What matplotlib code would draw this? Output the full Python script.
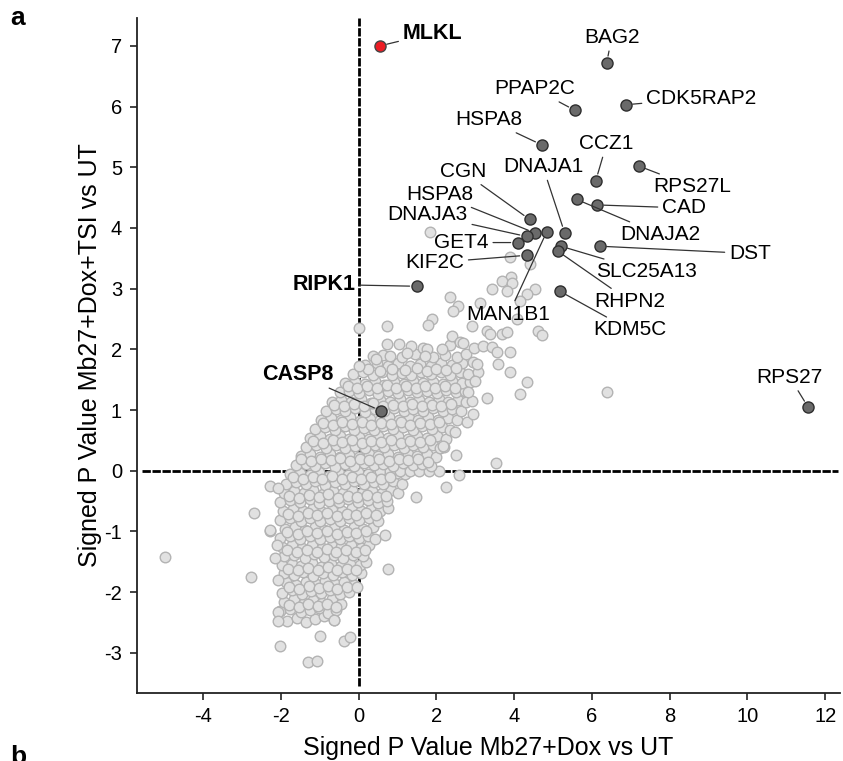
import matplotlib
matplotlib.use("Agg")
import matplotlib.pyplot as plt

plt.rcParams['font.family'] = ['Liberation Sans', 'DejaVu Sans']

# ---------------- data ----------------
# background proteins (signed p value x, y)
cloud_pts = [
    (-1.84,-2.47),(-1.58,-2.43),(-1.36,-2.49),(-1.12,-2.44),(-0.88,-2.40),(-0.62,-2.46),
    (-2.01,-2.31),(-1.77,-2.27),(-1.49,-2.33),(-1.26,-2.29),(-1.03,-2.26),(-0.79,-2.34),(-0.57,-2.30),
    (-1.92,-2.16),(-1.66,-2.12),(-1.41,-2.18),(-1.17,-2.13),(-0.93,-2.17),(-0.68,-2.12),(-0.46,-2.19),
    (-1.97,-2.02),(-1.72,-1.97),(-1.46,-2.03),(-1.22,-1.98),(-0.97,-2.01),(-0.73,-1.96),(-0.48,-2.03),(-0.24,-1.99),
    (-1.86,-1.84),(-1.61,-1.88),(-1.34,-1.83),(-1.09,-1.87),(-0.86,-1.82),(-0.61,-1.86),(-0.37,-1.84),(-0.12,-1.88),
    (-1.93,-1.69),(-1.67,-1.72),(-1.42,-1.67),(-1.16,-1.73),(-0.91,-1.68),(-0.66,-1.71),(-0.42,-1.66),(-0.17,-1.72),(0.06,-1.69),
    (-1.98,-1.56),(-1.72,-1.53),(-1.47,-1.57),(-1.21,-1.52),(-0.96,-1.58),(-0.71,-1.54),(-0.46,-1.57),(-0.21,-1.53),(0.04,-1.56),(0.18,-1.51),
    (-1.91,-1.41),(-1.66,-1.38),(-1.39,-1.43),(-1.14,-1.37),(-0.89,-1.42),(-0.64,-1.39),(-0.39,-1.43),(-0.14,-1.38),(0.11,-1.41),
    (-1.96,-1.26),(-1.71,-1.23),(-1.45,-1.27),(-1.19,-1.22),(-0.94,-1.28),(-0.69,-1.24),(-0.44,-1.26),(-0.19,-1.22),(0.06,-1.27),(0.26,-1.23),
    (-2.02,-1.11),(-1.76,-1.08),(-1.51,-1.12),(-1.24,-1.07),(-0.99,-1.13),(-0.74,-1.09),(-0.49,-1.12),(-0.24,-1.07),(0.01,-1.11),(0.24,-1.08),(0.41,-1.12),
    (-1.89,-0.96),(-1.64,-0.93),(-1.38,-0.97),(-1.13,-0.92),(-0.88,-0.98),(-0.63,-0.94),(-0.38,-0.97),(-0.13,-0.93),(0.12,-0.96),(0.36,-0.92),
    (-2.01,-0.81),(-1.76,-0.78),(-1.49,-0.83),(-1.24,-0.77),(-0.99,-0.82),(-0.74,-0.79),(-0.49,-0.83),(-0.24,-0.78),(0.01,-0.81),(0.26,-0.77),(0.51,-0.82),
    (-1.94,-0.66),(-1.69,-0.63),(-1.43,-0.67),(-1.18,-0.62),(-0.93,-0.68),(-0.68,-0.64),(-0.43,-0.67),(-0.18,-0.62),(0.07,-0.66),(0.32,-0.63),(0.56,-0.67),(0.76,-0.62),
    (-2.02,-0.51),(-1.77,-0.48),(-1.51,-0.52),(-1.26,-0.47),(-1.01,-0.53),(-0.76,-0.49),(-0.51,-0.52),(-0.26,-0.47),(-0.01,-0.51),(0.24,-0.48),(0.49,-0.53),(0.73,-0.49),
    (-1.91,-0.36),(-1.66,-0.33),(-1.41,-0.37),(-1.16,-0.32),(-0.91,-0.38),(-0.66,-0.34),(-0.41,-0.37),(-0.16,-0.32),(0.09,-0.36),(0.34,-0.33),(0.59,-0.37),(0.84,-0.32),(1.01,-0.36),
    (-1.86,-0.21),(-1.61,-0.18),(-1.36,-0.22),(-1.11,-0.17),(-0.86,-0.23),(-0.61,-0.19),(-0.36,-0.22),(-0.11,-0.17),(0.14,-0.21),(0.39,-0.18),(0.64,-0.22),(0.89,-0.17),(1.12,-0.21),
    (-1.76,-0.06),(-1.51,-0.03),(-1.26,-0.07),(-1.01,-0.02),(-0.76,-0.08),(-0.51,-0.04),(-0.26,-0.07),(-0.01,-0.02),(0.24,-0.06),(0.49,-0.03),(0.74,-0.07),(0.99,-0.04),(1.19,-0.06),
    (0.55,0.0),(0.81,0.0),(1.06,0.0),(1.31,0.0),(1.56,0.0),(1.81,0.0),(2.06,0.0),
    (-1.61,0.09),(-1.36,0.12),(-1.11,0.08),(-0.86,0.13),(-0.61,0.07),(-0.36,0.11),(-0.11,0.08),(0.14,0.13),(0.39,0.09),(0.64,0.12),(0.89,0.08),(1.14,0.13),(1.39,0.09),(1.64,0.12),(1.87,0.08),
    (-1.49,0.24),(-1.24,0.27),(-0.99,0.23),(-0.74,0.28),(-0.49,0.22),(-0.24,0.26),(0.01,0.23),(0.26,0.28),(0.51,0.24),(0.76,0.27),(1.01,0.23),(1.26,0.28),(1.51,0.24),(1.76,0.27),(1.99,0.23),
    (-1.34,0.39),(-1.09,0.42),(-0.84,0.38),(-0.59,0.43),(-0.34,0.37),(-0.09,0.41),(0.16,0.38),(0.41,0.43),(0.66,0.39),(0.91,0.42),(1.16,0.38),(1.41,0.43),(1.66,0.39),(1.91,0.42),(2.09,0.37),
    (-1.24,0.54),(-0.99,0.57),(-0.74,0.53),(-0.49,0.58),(-0.24,0.52),(0.01,0.56),(0.26,0.53),(0.51,0.58),(0.76,0.54),(1.01,0.57),(1.26,0.53),(1.51,0.58),(1.76,0.54),(2.01,0.57),(2.24,0.53),
    (-1.11,0.69),(-0.86,0.72),(-0.61,0.68),(-0.36,0.73),(-0.11,0.67),(0.14,0.71),(0.39,0.68),(0.64,0.73),(0.89,0.69),(1.14,0.72),(1.39,0.68),(1.64,0.73),(1.89,0.69),(2.14,0.72),(2.34,0.68),
    (-0.96,0.84),(-0.71,0.87),(-0.46,0.83),(-0.21,0.88),(0.04,0.82),(0.29,0.86),(0.54,0.83),(0.79,0.88),(1.04,0.84),(1.29,0.87),(1.54,0.83),(1.79,0.88),(2.04,0.84),(2.29,0.87),(2.54,0.83),
    (-0.84,0.99),(-0.59,1.02),(-0.34,0.98),(-0.09,1.03),(0.16,0.97),(0.41,1.01),(0.66,0.98),(0.91,1.03),(1.16,0.99),(1.41,1.02),(1.66,0.98),(1.91,1.03),(2.16,0.99),(2.41,1.02),(2.64,0.98),
    (-0.69,1.14),(-0.44,1.17),(-0.19,1.13),(0.06,1.18),(0.31,1.12),(0.56,1.16),(0.81,1.13),(1.06,1.18),(1.31,1.14),(1.56,1.17),(1.81,1.13),(2.06,1.18),(2.31,1.14),(2.56,1.17),(2.76,1.13),
    (-0.49,1.29),(-0.24,1.32),(0.01,1.28),(0.26,1.33),(0.51,1.27),(0.76,1.31),(1.01,1.28),(1.26,1.33),(1.51,1.29),(1.76,1.32),(2.01,1.28),(2.26,1.33),(2.51,1.29),(2.74,1.32),
    (-0.34,1.44),(-0.09,1.47),(0.16,1.43),(0.41,1.48),(0.66,1.42),(0.91,1.46),(1.16,1.43),(1.41,1.48),(1.66,1.44),(1.91,1.47),(2.16,1.43),(2.41,1.48),(2.66,1.44),(2.86,1.47),
    (-0.14,1.59),(0.11,1.62),(0.36,1.58),(0.61,1.63),(0.86,1.57),(1.11,1.61),(1.36,1.58),(1.61,1.63),(1.86,1.59),(2.11,1.62),(2.36,1.58),(2.61,1.63),(2.81,1.59),(3.06,1.62),
    (0.16,1.74),(0.47,1.77),(0.76,1.73),(1.02,1.78),(1.31,1.72),(1.57,1.76),(1.86,1.73),(2.12,1.78),(2.41,1.74),(2.66,1.77),
    (0.62,1.91),(1.12,1.88),(1.46,1.92),(1.91,1.87),(2.21,1.91),(2.52,1.88),(2.77,1.92),
    (1.36,2.06),(1.66,2.03),(2.36,2.07),(2.96,2.02),(3.21,2.06),
    # in-between proteins of the dense core
    (-1.80,-2.21),(-1.54,-2.24),(-1.29,-2.20),(-1.05,-2.23),(-0.81,-2.19),(-0.58,-2.24),
    (-1.78,-1.91),(-1.53,-1.94),(-1.28,-1.90),(-1.03,-1.93),(-0.79,-1.89),(-0.55,-1.94),(-0.30,-1.91),
    (-1.81,-1.61),(-1.55,-1.64),(-1.30,-1.60),(-1.04,-1.63),(-0.79,-1.59),(-0.55,-1.64),(-0.30,-1.61),(-0.06,-1.63),
    (-1.83,-1.31),(-1.58,-1.34),(-1.32,-1.30),(-1.07,-1.33),(-0.82,-1.29),(-0.57,-1.34),(-0.32,-1.31),(-0.07,-1.33),(0.17,-1.30),
    (-1.84,-1.01),(-1.57,-1.04),(-1.32,-1.00),(-1.06,-1.03),(-0.81,-0.99),(-0.56,-1.04),(-0.31,-1.01),(-0.06,-1.03),(0.19,-1.00),
    (-1.82,-0.71),(-1.56,-0.74),(-1.31,-0.70),(-1.06,-0.73),(-0.81,-0.69),(-0.56,-0.74),(-0.31,-0.71),(-0.06,-0.73),(0.19,-0.70),(0.44,-0.73),
    (-1.78,-0.41),(-1.53,-0.44),(-1.28,-0.40),(-1.03,-0.43),(-0.78,-0.39),(-0.53,-0.44),(-0.28,-0.41),(-0.03,-0.43),(0.22,-0.40),(0.47,-0.43),(0.71,-0.41),
    (-1.68,-0.11),(-1.43,-0.14),(-1.18,-0.10),(-0.93,-0.13),(-0.68,-0.09),(-0.43,-0.14),(-0.18,-0.11),(0.07,-0.13),(0.32,-0.10),(0.57,-0.13),(0.82,-0.11),
    (-1.47,0.19),(-1.22,0.16),(-0.97,0.20),(-0.72,0.17),(-0.47,0.21),(-0.22,0.16),(0.03,0.19),(0.28,0.17),(0.53,0.20),(0.78,0.16),(1.03,0.19),(1.28,0.17),(1.53,0.20),
    (-1.17,0.49),(-0.92,0.46),(-0.67,0.50),(-0.42,0.47),(-0.17,0.51),(0.08,0.46),(0.33,0.49),(0.58,0.47),(0.83,0.50),(1.08,0.46),(1.33,0.49),(1.58,0.47),(1.83,0.50),
    (-0.92,0.79),(-0.67,0.76),(-0.42,0.80),(-0.17,0.77),(0.08,0.81),(0.33,0.76),(0.58,0.79),(0.83,0.77),(1.08,0.80),(1.33,0.76),(1.58,0.79),(1.83,0.77),(2.08,0.80),
    (-0.62,1.09),(-0.37,1.06),(-0.12,1.10),(0.13,1.07),(0.38,1.11),(0.63,1.06),(0.88,1.09),(1.13,1.07),(1.38,1.10),(1.63,1.06),(1.88,1.09),(2.13,1.07),(2.38,1.10),
    (-0.28,1.39),(-0.03,1.36),(0.22,1.40),(0.47,1.37),(0.72,1.41),(0.97,1.36),(1.22,1.39),(1.47,1.37),(1.72,1.40),(1.97,1.36),(2.22,1.39),(2.47,1.37),
    (0.25,1.67),(0.55,1.65),(0.85,1.68),(1.20,1.66),(1.50,1.69),(1.75,1.65),(2.00,1.68),(2.25,1.66),(2.50,1.69),
    # sparse / outlying background proteins
    (1.83,3.94),(3.89,3.53),(4.40,3.40),(3.91,3.20),(3.68,3.12),(3.94,3.10),(3.42,2.99),(3.81,2.96),
    (4.53,2.99),(4.32,2.91),(2.34,2.86),(3.11,2.77),(4.14,2.79),(2.55,2.71),(2.42,2.63),(1.90,2.50),
    (1.78,2.41),(0.72,2.38),(0.00,2.35),(2.91,2.38),(3.29,2.30),(3.37,2.25),(3.68,2.25),(3.81,2.28),
    (4.07,2.50),(4.61,2.30),(4.71,2.23),(2.39,2.22),(2.60,2.12),(2.68,2.10),(2.14,2.00),(3.42,2.04),
    (3.55,1.95),(3.89,1.95),(1.03,2.09),(0.72,2.09),(1.24,1.94),(0.80,1.89),(0.36,1.89),(0.46,1.84),
    (1.75,2.00),(1.72,1.89),(2.93,1.79),(3.04,1.76),(3.58,1.76),(3.89,1.63),(4.32,1.46),(4.14,1.26),
    (0.00,1.72),(3.29,1.20),(6.38,1.30),(3.53,0.13),(2.57,-0.07),(2.26,-0.26),(2.50,0.26),(2.47,0.64),
    (2.19,0.39),(2.78,0.80),(2.94,0.94),(2.91,1.15),(2.81,1.30),(2.99,1.48),(1.47,-0.43),(0.75,-1.61),
    (0.69,-1.05),(-0.05,-1.92),(-4.97,-1.42),(-2.68,-0.70),(-2.76,-1.75),(-2.03,-2.89),(-1.30,-3.15),
    (-1.08,-3.14),(-0.38,-2.81),(-0.23,-2.73),(-1.00,-2.72),(-2.29,-0.25),(-2.08,-0.28),(-2.29,-1.00),
    (-2.27,-0.98),(-2.11,-1.23),(-2.14,-1.43),(-2.08,-1.80),(-2.08,-2.33),(-2.08,-2.48),(-0.62,-2.46),
    (2.16,0.41),(1.78,0.15),
]
cloud_x = [p[0] for p in cloud_pts]
cloud_y = [p[1] for p in cloud_pts]

# highlighted proteins
hit_names = ["BAG2", "PPAP2C", "CDK5RAP2", "HSPA8", "CCZ1", "RPS27L", "CGN", "DNAJA1",
             "HSPA8", "DNAJA3", "GET4", "KIF2C", "CAD", "DNAJA2", "DST", "SLC25A13",
             "RHPN2", "MAN1B1", "KDM5C", "RIPK1", "CASP8", "RPS27"]
hit_x = [6.38, 5.56, 6.87, 4.71, 6.10, 7.21, 4.40, 5.30,
         4.53, 4.32, 4.09, 4.32, 6.13, 5.61, 6.20, 5.20,
         5.12, 4.84, 5.17, 1.49, 0.57, 11.56]
hit_y = [6.72, 5.94, 6.03, 5.37, 4.78, 5.02, 4.14, 3.92,
         3.92, 3.86, 3.76, 3.55, 4.38, 4.47, 3.70, 3.70,
         3.62, 3.94, 2.96, 3.04, 0.99, 1.05]
bold_names = {"RIPK1", "CASP8"}

mlkl_name = "MLKL"
mlkl_x = [0.55]
mlkl_y = [7.00]

x_ticks = [-4, -2, 0, 2, 4, 6, 8, 10, 12]
y_ticks = [-3, -2, -1, 0, 1, 2, 3, 4, 5, 6, 7]
x_label = "Signed P Value Mb27+Dox vs UT"
y_label = "Signed P Value Mb27+Dox+TSI vs UT"

# ---------------- layout (label placement, data coords) ----------------
label_pos = [(6.51, 7.14, 'center'), (4.53, 6.29, 'center'), (7.39, 6.14, 'left'),
             (3.35, 5.78, 'center'), (6.38, 5.39, 'center'), (7.59, 4.68, 'left'),
             (2.68, 4.93, 'center'), (4.74, 5.01, 'center'), (2.08, 4.55, 'center'),
             (1.78, 4.22, 'center'), (2.65, 3.76, 'center'), (1.96, 3.43, 'center'),
             (7.80, 4.33, 'left'), (7.75, 3.89, 'center'), (10.06, 3.58, 'center'),
             (7.41, 3.28, 'center'), (6.98, 2.79, 'center'), (3.86, 2.58, 'center'),
             (6.98, 2.32, 'center'), (-0.08, 3.07, 'right'), (-1.57, 1.59, 'center'),
             (11.09, 1.54, 'center')]
mlkl_pos = (1.13, 7.21)

# ---------------- figure ----------------
fig = plt.figure(figsize=(8.43, 7.61), dpi=100)
ax = fig.add_axes([0.1629, 0.0894, 0.8335, 0.8870])
ax.set_xlim(-5.69, 12.38)
ax.set_ylim(-3.66, 7.46)

dash = (0, (3.0, 0.6))
ax.plot([-5.57, 12.33], [0, 0], color='black', lw=2.0, linestyle=dash, zorder=1)
ax.plot([0, 0], [-3.55, 7.46], color='black', lw=2.0, linestyle=dash, zorder=1, clip_on=False)

ax.scatter(cloud_x, cloud_y, s=58, facecolor='#e1e1e1', edgecolor='#b3b3b3',
           linewidth=1.0, zorder=2)
ax.scatter(hit_x, hit_y, s=64, facecolor='#6a6a6a', edgecolor='#2e2e2e',
           linewidth=1.0, zorder=4)
ax.scatter(mlkl_x, mlkl_y, s=64, facecolor='#ec1c24', edgecolor='#444444',
           linewidth=1.0, zorder=4)

arrow = dict(arrowstyle='-', color='#333333', lw=0.9, shrinkA=1, shrinkB=5)
for name, px, py, (tx, ty, ha) in zip(hit_names, hit_x, hit_y, label_pos):
    ax.annotate(name, xy=(px, py), xytext=(tx, ty), ha=ha, va='center',
                fontsize=15 if name not in bold_names else 15.5,
                fontweight='bold' if name in bold_names else 'normal',
                arrowprops=arrow, zorder=5)
ax.annotate(mlkl_name, xy=(mlkl_x[0], mlkl_y[0]), xytext=mlkl_pos, ha='left', va='center',
            fontsize=15.5, fontweight='bold', arrowprops=arrow, zorder=5)

for side in ['top', 'right']:
    ax.spines[side].set_visible(False)
for side in ['left', 'bottom']:
    ax.spines[side].set_linewidth(1.3)
    ax.spines[side].set_color('#222222')

ax.set_xticks(x_ticks)
ax.set_yticks(y_ticks)
ax.set_xticklabels([str(t) for t in x_ticks])
ax.set_yticklabels([str(t) for t in y_ticks])
ax.tick_params(axis='both', direction='out', length=5, width=1.2, color='#222222',
               labelsize=14.5)
ax.tick_params(axis='y', pad=6)
ax.tick_params(axis='x', pad=5)
ax.set_xlabel(x_label, fontsize=18, labelpad=7)
ax.set_ylabel(y_label, fontsize=18, labelpad=1.5)

fig.text(0.012, 0.976, 'a', fontsize=19, fontweight='bold', ha='left', va='center')
fig.text(0.012, 0.021, 'b', fontsize=19, fontweight='bold', ha='left', va='top')

fig.savefig('out.png', dpi=100)
